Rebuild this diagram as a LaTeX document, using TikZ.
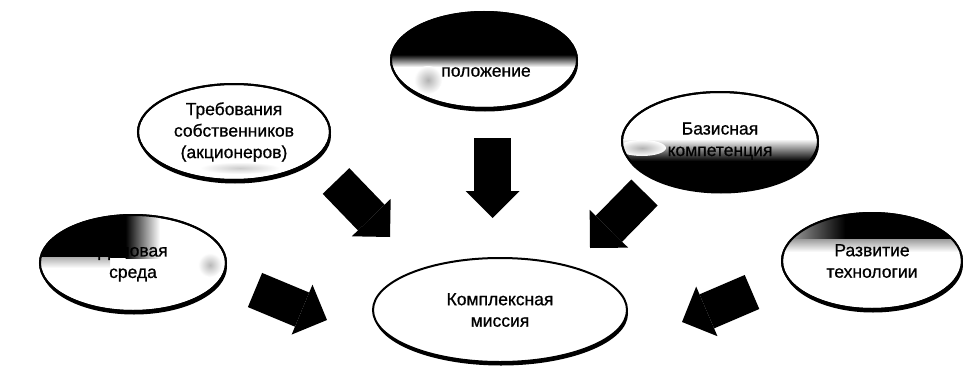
\documentclass[tikz,border=0pt]{standalone}
\usepackage{fontspec}
\setmainfont{Liberation Sans}
\newfontfamily\labelfont[FakeBold=0.8]{Liberation Sans}
\usetikzlibrary{shapes.geometric,arrows.meta,shadows}

\begin{document}
\begin{tikzpicture}[x=1pt,y=-1pt,
  every node/.style={font=\labelfont\fontsize{17.5}{21.5}\selectfont, align=center},
  oval/.style={ellipse, draw=black, line width=2pt, fill=white, inner sep=0pt,
    drop shadow={shadow xshift=1pt, shadow yshift=-3.5pt, fill=black, opacity=1}},
  rim/.style={draw=black, line width=2pt},
  bigarrow/.style={line width=37pt, draw=black,
    -{Triangle[length=27pt,width=54pt,line width=0pt]}}
]
\useasboundingbox (0,0) rectangle (963,369);

% ---- "положение": dark upper half
\node[oval, minimum width=186pt, minimum height=96pt] (pos) at (484,60) {};
\begin{scope}
  \clip (pos.center) ellipse (93 and 48);
  \fill[black] (380,0) rectangle (590,55);
  \shade[top color=black, bottom color=white] (380,54.5) rectangle (590,67);
  \shade[inner color=gray!60, outer color=white] (428,80) circle (14);
\end{scope}
\draw[rim] (pos.center) ellipse (93 and 48);
\node (pos-text) at (486,72) {положение};

% ---- owners' requirements
\node[oval, minimum width=192pt, minimum height=96pt] (req) at (234,132) {};
\begin{scope}
  \clip (req.center) ellipse (96 and 48);
  \shade[inner color=gray!40, outer color=white] (240,168) ellipse (40 and 6);
\end{scope}
\draw[rim] (req.center) ellipse (96 and 48);
\node (req-text) at (req.center) {Требования\\собственников\\(акционеров)};

% ---- core competence: dark lower part
\node[oval, minimum width=196pt, minimum height=98pt] (core) at (720,141) {};
\begin{scope}
  \clip (core.center) ellipse (98 and 49);
  \shade[top color=white, bottom color=black] (600,139) rectangle (830,161);
  \fill[black] (600,160.5) rectangle (830,200);
  \shade[inner color=gray!60, outer color=white] (642,148) ellipse (24 and 8);
\end{scope}
\draw[rim] (core.center) ellipse (98 and 49);
\node (core-text) at (core.center) {Базисная\\компетенция};

% ---- business environment: dark upper-left corner
\node[oval, minimum width=186pt, minimum height=96pt] (env) at (133,263) {};
\begin{scope}
  \clip (env.center) ellipse (93 and 48);
  \fill[black] (30,200) rectangle (126,258);
  \shade[left color=black, right color=white] (125.5,200) rectangle (160,258);
  \shade[top color=gray!60, bottom color=white] (30,257.5) rectangle (110,268);
  \shade[inner color=gray!55, outer color=white] (210,265) circle (12);
\end{scope}
\draw[rim] (env.center) ellipse (93 and 48);
\node (env-text) at (env.center) {Деловая\\среда};

% ---- technology development: dark upper band
\node[oval, minimum width=180pt, minimum height=96pt] (tech) at (872,261) {};
\begin{scope}
  \clip (tech.center) ellipse (90 and 48);
  \shade[left color=gray!55, right color=black] (780,200) rectangle (845,240);
  \fill[black] (844.5,200) rectangle (970,240);
  \shade[top color=gray!75, bottom color=white] (780,239.5) rectangle (970,252);
\end{scope}
\draw[rim] (tech.center) ellipse (90 and 48);
\node (tech-text) at (tech.center) {Развитие\\технологии};

% ---- central oval
\node[oval, minimum width=254pt, minimum height=104pt] (mis) at (500,310)
  {Комплексная\\миссия};

% ---- block arrows toward the mission
\coordinate (a1s) at (336,181);   \coordinate (a1e) at (390,237);
\coordinate (a2s) at (492.5,138); \coordinate (a2e) at (492.5,218);
\coordinate (a3s) at (644.5,192.5); \coordinate (a3e) at (590,248);
\coordinate (a4s) at (255,290);   \coordinate (a4e) at (327,320);
\coordinate (a5s) at (752,292);   \coordinate (a5e) at (682,322);

\draw[bigarrow] (a1s) -- (a1e);
\draw[bigarrow] (a2s) -- (a2e);
\draw[bigarrow] (a3s) -- (a3e);
\draw[bigarrow] (a4s) -- (a4e);
\draw[bigarrow] (a5s) -- (a5e);
\end{tikzpicture}
\end{document}
